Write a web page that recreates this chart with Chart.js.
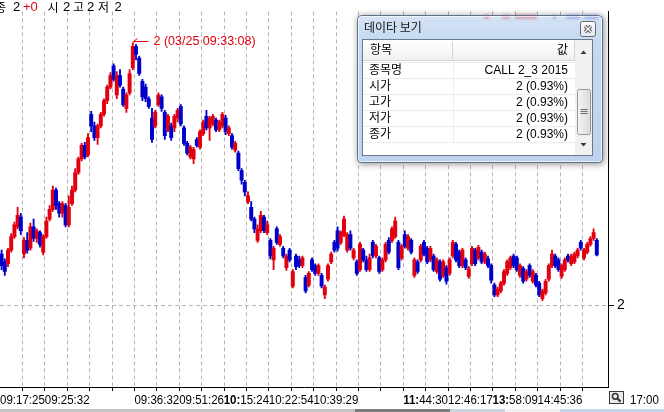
<!DOCTYPE html>
<html>
<head>
<meta charset="utf-8">
<script src="https://cdn.jsdelivr.net/npm/chart.js@4.4.1/dist/chart.umd.min.js"></script>
<style>
html,body{margin:0;padding:0;background:#fff;overflow:hidden}
canvas{display:block}
</style>
</head>
<body>
<canvas id="chart" width="664" height="412"></canvas>
<script>
// candle values (one per slot, left to right)
const opens = [
2.053,2.045,2.043,2.057,2.071,2.081,2.091,2.053,2.067,2.059,
2.081,2.069,2.075,2.055,2.071,2.089,2.099,2.119,2.105,2.095,
2.103,2.083,2.105,2.119,2.137,2.151,2.165,2.155,2.197,2.185,
2.173,2.185,2.197,2.211,2.225,2.247,2.217,2.237,2.223,2.203,
2.219,2.245,2.267,2.255,2.231,2.225,2.213,2.193,2.185,2.207,
2.215,2.199,2.181,2.185,2.183,2.193,2.205,2.183,2.167,2.153,
2.151,2.171,2.163,2.177,2.195,2.183,2.187,2.191,2.181,2.185,
2.193,2.177,2.175,2.160,2.157,2.139,2.127,2.107,2.101,2.089,
2.067,2.077,2.091,2.075,2.067,2.047,2.079,2.063,2.059,2.039,
2.057,2.020,2.051,2.047,2.041,2.029,2.021,2.047,2.041,2.033,
2.031,2.011,2.027,2.045,2.065,2.077,2.065,2.073,2.057,2.073,
2.049,2.045,2.037,2.057,2.047,2.037,2.065,2.051,2.049,2.037,
2.047,2.067,2.067,2.071,2.065,2.049,2.073,2.059,2.067,2.031,
2.045,2.047,2.065,2.059,2.047,2.051,2.035,2.045,2.031,2.039,
2.033,2.051,2.063,2.055,2.041,2.047,2.030,2.043,2.057,2.049,
2.055,2.045,2.048,2.041,2.021,2.011,2.015,2.023,2.033,2.039,
2.051,2.049,2.031,2.038,2.027,2.041,2.025,2.031,2.023,2.007,
2.013,2.027,2.041,2.051,2.047,2.030,2.037,2.051,2.043,2.045,
2.051,2.065,2.049,2.055,2.063,2.069,2.067
]
const highs = [
2.057,2.048,2.059,2.074,2.086,2.101,2.095,2.070,2.075,2.085,
2.089,2.079,2.077,2.073,2.091,2.103,2.123,2.121,2.107,2.107,
2.105,2.113,2.123,2.141,2.153,2.167,2.168,2.177,2.200,2.189,
2.187,2.199,2.213,2.227,2.240,2.249,2.241,2.243,2.225,2.219,
2.243,2.271,2.269,2.257,2.233,2.228,2.215,2.203,2.201,2.219,
2.217,2.201,2.197,2.188,2.197,2.203,2.207,2.185,2.169,2.165,
2.163,2.173,2.181,2.191,2.201,2.195,2.197,2.193,2.191,2.199,
2.196,2.185,2.177,2.169,2.159,2.141,2.129,2.117,2.107,2.091,
2.083,2.097,2.093,2.087,2.069,2.061,2.081,2.073,2.061,2.053,
2.059,2.037,2.053,2.051,2.051,2.031,2.035,2.049,2.043,2.043,
2.033,2.021,2.043,2.055,2.067,2.081,2.077,2.092,2.075,2.077,
2.059,2.047,2.065,2.059,2.051,2.053,2.067,2.063,2.051,2.049,
2.065,2.070,2.081,2.091,2.067,2.063,2.077,2.073,2.069,2.049,
2.047,2.063,2.067,2.061,2.061,2.053,2.049,2.047,2.047,2.041,
2.049,2.067,2.065,2.057,2.059,2.049,2.040,2.061,2.059,2.062,
2.057,2.055,2.051,2.043,2.023,2.019,2.025,2.037,2.047,2.051,
2.053,2.051,2.043,2.040,2.037,2.043,2.037,2.033,2.025,2.017,
2.027,2.043,2.057,2.053,2.049,2.043,2.049,2.053,2.053,2.055,
2.059,2.067,2.059,2.065,2.071,2.079,2.069
]
const lows = [
2.037,2.031,2.040,2.055,2.069,2.079,2.073,2.049,2.054,2.057,
2.066,2.065,2.060,2.052,2.069,2.087,2.097,2.099,2.091,2.091,
2.081,2.081,2.103,2.117,2.135,2.149,2.151,2.153,2.179,2.170,
2.166,2.183,2.195,2.208,2.223,2.231,2.213,2.225,2.205,2.199,
2.217,2.243,2.253,2.237,2.211,2.210,2.203,2.168,2.183,2.205,
2.200,2.171,2.179,2.170,2.179,2.189,2.185,2.165,2.155,2.151,
2.146,2.163,2.161,2.175,2.181,2.170,2.185,2.179,2.179,2.183,
2.176,2.175,2.161,2.158,2.139,2.125,2.113,2.105,2.087,2.075,
2.065,2.075,2.075,2.073,2.048,2.037,2.063,2.061,2.049,2.036,
2.045,2.018,2.037,2.039,2.039,2.013,2.019,2.035,2.031,2.031,
2.018,2.007,2.025,2.043,2.055,2.056,2.063,2.071,2.055,2.057,
2.047,2.031,2.035,2.045,2.035,2.035,2.049,2.049,2.033,2.035,
2.045,2.053,2.065,2.069,2.037,2.047,2.059,2.057,2.053,2.029,
2.033,2.045,2.051,2.043,2.045,2.035,2.033,2.025,2.029,2.022,
2.031,2.049,2.045,2.039,2.039,2.037,2.028,2.041,2.041,2.047,
2.043,2.043,2.039,2.023,2.009,2.009,2.013,2.021,2.031,2.037,
2.039,2.035,2.029,2.023,2.025,2.029,2.023,2.019,2.009,2.005,
2.011,2.025,2.039,2.039,2.035,2.028,2.035,2.045,2.041,2.043,
2.049,2.057,2.047,2.053,2.061,2.067,2.051
]
const closes = [
2.041,2.035,2.057,2.071,2.083,2.093,2.077,2.067,2.057,2.081,
2.069,2.077,2.063,2.071,2.087,2.099,2.119,2.103,2.095,2.105,
2.083,2.101,2.119,2.137,2.151,2.165,2.153,2.173,2.185,2.173,
2.185,2.197,2.211,2.225,2.237,2.233,2.237,2.227,2.207,2.217,
2.239,2.267,2.259,2.239,2.215,2.213,2.205,2.171,2.199,2.217,
2.203,2.175,2.195,2.173,2.195,2.201,2.187,2.167,2.157,2.163,
2.161,2.165,2.179,2.189,2.183,2.193,2.195,2.181,2.189,2.197,
2.179,2.183,2.163,2.167,2.141,2.129,2.117,2.113,2.089,2.079,
2.079,2.093,2.077,2.083,2.051,2.059,2.065,2.071,2.051,2.051,
2.047,2.035,2.040,2.041,2.049,2.015,2.033,2.037,2.033,2.041,
2.020,2.019,2.041,2.053,2.057,2.059,2.075,2.089,2.073,2.059,
2.057,2.033,2.063,2.047,2.037,2.049,2.051,2.061,2.035,2.047,
2.063,2.055,2.079,2.087,2.039,2.061,2.061,2.071,2.055,2.047,
2.035,2.061,2.053,2.045,2.059,2.037,2.047,2.027,2.045,2.025,
2.047,2.065,2.047,2.041,2.057,2.039,2.038,2.059,2.043,2.060,
2.045,2.053,2.041,2.026,2.011,2.017,2.023,2.035,2.045,2.049,
2.041,2.037,2.041,2.025,2.035,2.031,2.035,2.021,2.011,2.015,
2.025,2.041,2.053,2.041,2.037,2.041,2.047,2.047,2.051,2.053,
2.057,2.059,2.057,2.063,2.069,2.075,2.052
]

// time labels under the dashed grid lines (one per line, '' = no label)
const gridLabels = [
'09:17:25','','09:25:32','','','','09:36:32','','09:51:26','',
'10:15:24','','10:22:54','','10:39:29','','','','11:44:30','',
'12:46:17','','13:58:09','','14:45:36',''
]
const gridBold = [
0,0,0,0,0,0,0,0,0,0,
1,0,0,0,0,0,0,0,1,0,
0,0,1,0,0,0
]
const slotsPerGrid = 7
const slotCount = 190
const yTicks = [2]
const endTime = '17:00'

// top-left summary
const legendParts = [
  {t:'종', x:-5, c:'#000'}, {t:'2', x:13, c:'#000'}, {t:'+0', x:23, c:'#e2000f'},
  {t:'시', x:47.5, c:'#000'}, {t:'2', x:63, c:'#000'},
  {t:'고', x:73, c:'#000'}, {t:'2', x:87, c:'#000'},
  {t:'저', x:98, c:'#000'}, {t:'2', x:114.5, c:'#000'}
]
const peakText = '2 (03/25 09:33:08)'

// data view window
const viewTitle = '데이타 보기'
const viewHeader = ['항목', '값']
const viewItems = ['종목명', '시가', '고가', '저가', '종가']
const viewValues = ['CALL 2_3 2015', '2 (0.93%)', '2 (0.93%)', '2 (0.93%)', '2 (0.93%)']

const UP = '#e2000f'
const DOWN = '#0000cd'
const slots = Array.from({length: slotCount}, (_, i) => String(i))
const colors = opens.map((o, i) => closes[i] >= o ? UP : DOWN)

const isGrid = i => i > 0 && i % slotsPerGrid === 0 && i <= slotsPerGrid * gridLabels.length

function rr(ctx, x, y, w, h, r){
  ctx.beginPath()
  ctx.moveTo(x + r, y)
  ctx.arcTo(x + w, y, x + w, y + h, r)
  ctx.arcTo(x + w, y + h, x, y + h, r)
  ctx.arcTo(x, y + h, x, y, r)
  ctx.arcTo(x, y, x + w, y, r)
  ctx.closePath()
}
function line(ctx, x1, y1, x2, y2){
  ctx.beginPath(); ctx.moveTo(x1, y1); ctx.lineTo(x2, y2); ctx.stroke()
}

const FONT_R = '13px "Liberation Sans"'
const FONT_B = 'bold 13px "Liberation Sans"'

function drawTime(ctx, x, y, label, bold, sx, align){
  let head = bold ? label.slice(0, 3) : ''
  let tail = bold ? label.slice(3) : label
  ctx.font = FONT_B
  let wh = ctx.measureText(head).width
  ctx.font = FONT_R
  let wt = ctx.measureText(tail).width
  let total = (wh + wt) * sx
  let x0 = align === 'left' ? x : x - total / 2
  ctx.save()
  ctx.translate(x0, y)
  ctx.scale(sx, 1)
  ctx.textAlign = 'left'
  ctx.textBaseline = 'middle'
  ctx.fillStyle = '#000'
  if (head) { ctx.font = FONT_B; ctx.fillText(head, 0, 0) }
  ctx.font = FONT_R
  ctx.fillText(tail, wh, 0)
  ctx.restore()
}

function drawPopup(ctx){
  const L = 357, T = 15, R = 603, B = 163
  ctx.save()
  ctx.shadowColor = 'rgba(0,0,0,0.45)'
  ctx.shadowBlur = 7
  ctx.shadowOffsetX = 1
  ctx.shadowOffsetY = 1
  let g = ctx.createLinearGradient(0, T, 0, B)
  g.addColorStop(0, '#d5e3f5')
  g.addColorStop(0.18, '#c5d9f1')
  g.addColorStop(1, '#bcd2ed')
  ctx.fillStyle = g
  rr(ctx, L, T, R - L, B - T, 4)
  ctx.fill()
  ctx.restore()

  // chart text seen through the glass title bar
  ctx.save()
  ctx.filter = 'blur(1.2px)'
  ctx.fillStyle = 'rgba(220,30,40,0.30)'
  ctx.fillRect(484, 14, 5, 5); ctx.fillRect(502, 14, 8, 5); ctx.fillRect(515, 14, 22, 5)
  ctx.fillStyle = 'rgba(40,60,220,0.28)'
  ctx.fillRect(553, 14, 3, 5); ctx.fillRect(566, 14, 14, 5); ctx.fillRect(584, 14, 14, 5)
  ctx.restore()

  ctx.lineWidth = 1
  ctx.strokeStyle = '#5f718b'
  rr(ctx, L + 0.5, T + 0.5, R - L - 1, B - T - 1, 4)
  ctx.stroke()
  ctx.strokeStyle = 'rgba(255,255,255,0.65)'
  rr(ctx, L + 1.5, T + 1.5, R - L - 3, B - T - 3, 3)
  ctx.stroke()

  // title
  ctx.fillStyle = '#141414'
  ctx.font = '12px "Noto Sans CJK KR"'
  ctx.textAlign = 'left'
  ctx.textBaseline = 'middle'
  ctx.fillText(viewTitle, 364, 27)

  // close button
  let cg = ctx.createLinearGradient(0, 22, 0, 37)
  cg.addColorStop(0, '#fbfcfd')
  cg.addColorStop(1, '#dfe6ee')
  ctx.fillStyle = cg
  rr(ctx, 580.5, 21.5, 15, 15, 2)
  ctx.fill()
  ctx.strokeStyle = '#6a6a6a'
  ctx.stroke()
  ctx.strokeStyle = '#555555'
  ctx.lineWidth = 3.2
  line(ctx, 585, 26, 591, 32); line(ctx, 591, 26, 585, 32)
  ctx.strokeStyle = '#ffffff'
  ctx.lineWidth = 1.2
  line(ctx, 585, 26, 591, 32); line(ctx, 591, 26, 585, 32)
  ctx.lineWidth = 1

  // client area
  ctx.fillStyle = '#ffffff'
  ctx.fillRect(362, 39, 231, 117)
  ctx.strokeStyle = '#6a7990'
  ctx.strokeRect(362.5, 39.5, 230, 116)

  // header
  let hg = ctx.createLinearGradient(0, 40, 0, 61)
  hg.addColorStop(0, '#ffffff')
  hg.addColorStop(1, '#eff0f2')
  ctx.fillStyle = hg
  ctx.fillRect(363, 40, 212, 21)
  ctx.strokeStyle = '#d2d4d8'
  line(ctx, 363, 60.5, 575, 60.5)
  line(ctx, 452.5, 42, 452.5, 59)
  line(ctx, 574.5, 40, 574.5, 60)
  ctx.strokeStyle = '#ececec'
  line(ctx, 363, 62.5, 575, 62.5)

  const rowFont = '12px "Liberation Sans", "Noto Sans CJK KR"'
  ctx.font = rowFont
  ctx.fillStyle = '#000'
  ctx.textAlign = 'left'
  ctx.fillText(viewHeader[0], 370, 51)
  ctx.textAlign = 'right'
  ctx.fillText(viewHeader[1], 568, 51)

  // rows
  ctx.strokeStyle = '#ececec'
  line(ctx, 453.5, 63, 453.5, 142)
  viewItems.forEach((name, k) => {
    let cy = 70.5 + 16 * k
    ctx.strokeStyle = '#ececec'
    line(ctx, 363, cy + 8, 575, cy + 8)
    ctx.fillStyle = '#000'
    ctx.textAlign = 'left'
    ctx.fillText(name, 369, cy)
    ctx.textAlign = 'right'
    ctx.fillText(viewValues[k], 568, cy)
  })

  // scrollbar
  ctx.fillStyle = '#f1f1f1'
  ctx.fillRect(575, 40, 17, 115)
  ctx.fillStyle = '#3a3a3a'
  ctx.beginPath(); ctx.moveTo(580.5, 54); ctx.lineTo(586.5, 54); ctx.lineTo(583.5, 50.5); ctx.closePath(); ctx.fill()
  ctx.beginPath(); ctx.moveTo(580.5, 143); ctx.lineTo(586.5, 143); ctx.lineTo(583.5, 146.5); ctx.closePath(); ctx.fill()
  let tg = ctx.createLinearGradient(577, 0, 591, 0)
  tg.addColorStop(0, '#f6f6f6')
  tg.addColorStop(1, '#dadada')
  ctx.fillStyle = tg
  rr(ctx, 577.5, 89.5, 13, 45, 2)
  ctx.fill()
  ctx.strokeStyle = '#979797'
  ctx.stroke()
  ctx.strokeStyle = '#6e6e6e'
  line(ctx, 580.5, 109.5, 587.5, 109.5)
  line(ctx, 580.5, 111.5, 587.5, 111.5)
  line(ctx, 580.5, 113.5, 587.5, 113.5)
}

const htsPlugin = {
  id: 'hts',
  afterDraw(chart){
    const ctx = chart.ctx
    const xs = chart.scales.x
    const ys = chart.scales.y
    const cw = xs.width / slotCount

    // time labels on the grid lines
    ctx.font = FONT_R
    const sx = 44.8 / ctx.measureText('09:17:25').width
    gridLabels.forEach((lab, k) => {
      if (!lab) return
      let px = xs.getPixelForValue(slotsPerGrid * (k + 1)) - cw / 2
      drawTime(ctx, px, 400, lab, gridBold[k] === 1, sx)
    })

    // zoom button and end time
    ctx.fillStyle = '#ececec'
    ctx.fillRect(609.5, 391.5, 14, 12)
    ctx.strokeStyle = '#3a3a3a'
    ctx.lineWidth = 1
    ctx.strokeRect(609.5, 391.5, 14, 12)
    ctx.lineWidth = 1.6
    ctx.beginPath(); ctx.arc(615.2, 396.3, 2.8, 0, Math.PI * 2); ctx.stroke()
    ctx.lineWidth = 2.2
    line(ctx, 617.3, 398.4, 620.6, 401.6)
    ctx.lineWidth = 1
    drawTime(ctx, 630, 400, endTime, false, sx, 'left')

    // scroll strip at the very bottom
    ctx.fillStyle = '#c2c2c2'; ctx.fillRect(0, 409, 355, 3)
    ctx.fillStyle = '#7d7d7d'; ctx.fillRect(355, 409, 95, 3)
    ctx.fillStyle = '#c9d3e1'; ctx.fillRect(450, 409, 55, 3)
    ctx.fillStyle = '#f2f2f2'; ctx.fillRect(505, 409, 55, 3)
    ctx.fillStyle = '#c6d6ea'; ctx.fillRect(560, 409, 104, 3)

    // summary text
    ctx.textBaseline = 'middle'
    ctx.textAlign = 'left'
    legendParts.forEach(p => {
      ctx.font = /[가-힣]/.test(p.t) ? '12px "Noto Sans CJK KR"' : '13px "Liberation Sans"'
      ctx.fillStyle = p.c
      ctx.fillText(p.t, p.x, 7)
    })

    // highest price marker
    let hi = Math.max(...highs)
    let idx = highs.indexOf(hi)
    let px = Math.round(xs.getPixelForValue(idx)) + 0.5
    let py = Math.round(ys.getPixelForValue(hi)) - 0.5
    ctx.strokeStyle = '#e2000f'
    ctx.lineWidth = 1
    line(ctx, px, py, px + 15, py)
    line(ctx, px, py, px + 4, py - 3)
    ctx.fillStyle = '#e2000f'
    ctx.font = '12.5px "Liberation Sans"'
    ctx.fillText(peakText, px + 20, py)

    drawPopup(ctx)
  }
}

const ctx = document.getElementById('chart').getContext('2d')

window.candleChart = new Chart(ctx, {
  type: 'bar',
  data: {
    labels: slots,
    datasets: [
      {
        label: 'wick',
        data: lows.map((l, i) => [l, highs[i]]),
        backgroundColor: colors,
        barThickness: 1.2,
        grouped: false,
        borderWidth: 0,
        order: 2
      },
      {
        label: 'body',
        data: opens.map((o, i) => [o, closes[i]]),
        backgroundColor: colors,
        barThickness: 3.3,
        grouped: false,
        borderWidth: 0,
        minBarLength: 2,
        order: 1
      }
    ]
  },
  options: {
    responsive: false,
    animation: false,
    devicePixelRatio: 1,
    layout: { padding: 0 },
    plugins: {
      legend: { display: false },
      tooltip: { enabled: false }
    },
    scales: {
      x: {
        offset: true,
        grid: {
          offset: true,
          color: c => isGrid(c.index) ? '#b4b4b4' : 'rgba(0,0,0,0)',
          tickColor: c => isGrid(c.index) ? '#000' : 'rgba(0,0,0,0)',
          tickLength: 4,
          lineWidth: 1
        },
        border: { color: '#000', dash: [4, 3] },
        ticks: { display: false, autoSkip: false },
        afterFit: s => { s.height = 25 }
      },
      y: {
        position: 'right',
        min: 1.916,
        max: 2.303,
        afterBuildTicks: s => { s.ticks = yTicks.map(v => ({ value: v })) },
        ticks: {
          callback: v => String(v),
          color: '#000',
          font: { family: 'Liberation Sans', size: 14 },
          padding: 3
        },
        grid: { color: '#b4b4b4', tickColor: '#000', tickLength: 6 },
        border: { color: '#000', dash: [4, 3] },
        afterFit: s => { s.width = 56 }
      }
    }
  },
  plugins: [htsPlugin]
})
</script>
</body>
</html>
